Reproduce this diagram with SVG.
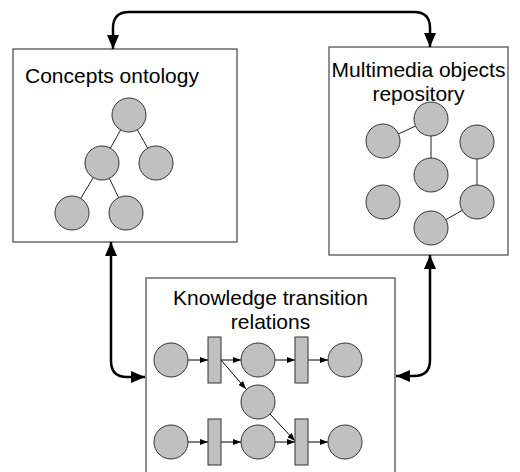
<svg xmlns="http://www.w3.org/2000/svg" width="520" height="472" viewBox="0 0 520 472">
<defs>
<marker id="big" viewBox="0 0 14 12" refX="14" refY="6" markerWidth="14" markerHeight="12" markerUnits="userSpaceOnUse" orient="auto-start-reverse"><path d="M0,0 L14,6 L0,12 Z" fill="#000"/></marker>
<marker id="small" viewBox="0 0 8 6" refX="8" refY="3" markerWidth="8" markerHeight="6" markerUnits="userSpaceOnUse" orient="auto"><path d="M0,0 L8,3 L0,6 Z" fill="#000"/></marker>
</defs>
<style>
.box{fill:#fff;stroke:#444;stroke-width:1.2}
.c{fill:#c0c0c0;stroke:#333;stroke-width:1}
.t{fill:#c0c0c0;stroke:#333;stroke-width:1}
.e{stroke:#222;stroke-width:1;fill:none}
.a{stroke:#000;stroke-width:1;fill:none;marker-end:url(#small)}
.lbl{font-family:"Liberation Sans",Arial,sans-serif;font-size:21px;fill:#000;text-anchor:middle}
.conn{stroke:#000;stroke-width:2.5;fill:none;marker-start:url(#big);marker-end:url(#big)}
</style>
<g id="concepts">
<rect class="box" x="13" y="49" width="224" height="193"/>
<text class="lbl" x="112" y="83">Concepts ontology</text>
<line class="e" x1="129" y1="115" x2="102" y2="163"/>
<line class="e" x1="129" y1="115" x2="156" y2="163"/>
<line class="e" x1="102" y1="163" x2="72" y2="213"/>
<line class="e" x1="102" y1="163" x2="126" y2="213"/>
<circle class="c" cx="129" cy="115" r="17"/>
<circle class="c" cx="102" cy="163" r="17"/>
<circle class="c" cx="156" cy="163" r="17"/>
<circle class="c" cx="72" cy="213" r="17"/>
<circle class="c" cx="126" cy="213" r="17"/>
</g>
<g id="multimedia">
<rect class="box" x="329" y="47" width="179" height="208"/>
<text class="lbl" x="418.5" y="77">Multimedia objects</text>
<text class="lbl" x="418.5" y="101">repository</text>
<line class="e" x1="383" y1="141" x2="431" y2="119"/>
<line class="e" x1="431" y1="119" x2="431" y2="175"/>
<line class="e" x1="477" y1="142" x2="477" y2="202"/>
<line class="e" x1="477" y1="202" x2="431" y2="228"/>
<circle class="c" cx="383" cy="141" r="17"/>
<circle class="c" cx="431" cy="119" r="17"/>
<circle class="c" cx="431" cy="175" r="17"/>
<circle class="c" cx="477" cy="142" r="17"/>
<circle class="c" cx="383" cy="202" r="17"/>
<circle class="c" cx="477" cy="202" r="17"/>
<circle class="c" cx="431" cy="228" r="17"/>
</g>
<g id="knowledge">
<rect class="box" x="146" y="278" width="249" height="200"/>
<text class="lbl" x="270.5" y="305">Knowledge transition</text>
<text class="lbl" x="270.5" y="329">relations</text>
<line class="a" x1="188" y1="360" x2="208" y2="360"/>
<line class="a" x1="221" y1="360" x2="241" y2="360"/>
<line class="a" x1="221" y1="360" x2="246" y2="389"/>
<line class="a" x1="275" y1="360" x2="295" y2="360"/>
<line class="a" x1="308" y1="360" x2="328" y2="360"/>
<line class="a" x1="188" y1="442" x2="208" y2="442"/>
<line class="a" x1="221" y1="442" x2="241" y2="442"/>
<line class="a" x1="275" y1="442" x2="295" y2="442"/>
<line class="a" x1="270" y1="414" x2="295" y2="441"/>
<line class="a" x1="308" y1="442" x2="328" y2="442"/>
<circle class="c" cx="171" cy="360" r="17"/>
<rect class="t" x="208" y="337" width="13" height="46"/>
<circle class="c" cx="258" cy="360" r="17"/>
<rect class="t" x="295" y="337" width="13" height="46"/>
<circle class="c" cx="345" cy="360" r="17"/>
<circle class="c" cx="258" cy="402" r="17"/>
<circle class="c" cx="171" cy="442" r="17"/>
<rect class="t" x="208" y="419" width="13" height="46"/>
<circle class="c" cx="258" cy="442" r="17"/>
<rect class="t" x="295" y="419" width="13" height="46"/>
<circle class="c" cx="345" cy="442" r="17"/>
</g>
<g id="connectors">
<path class="conn" d="M113,49 L113,28 Q113,12 129,12 L414,12 Q430,12 430,28 L430,47"/>
<path class="conn" d="M111,242 L111,361 Q111,377 127,377 L145,377"/>
<path class="conn" d="M430,255 L430,360 Q430,376 414,376 L396,376"/>
</g>
</svg>
